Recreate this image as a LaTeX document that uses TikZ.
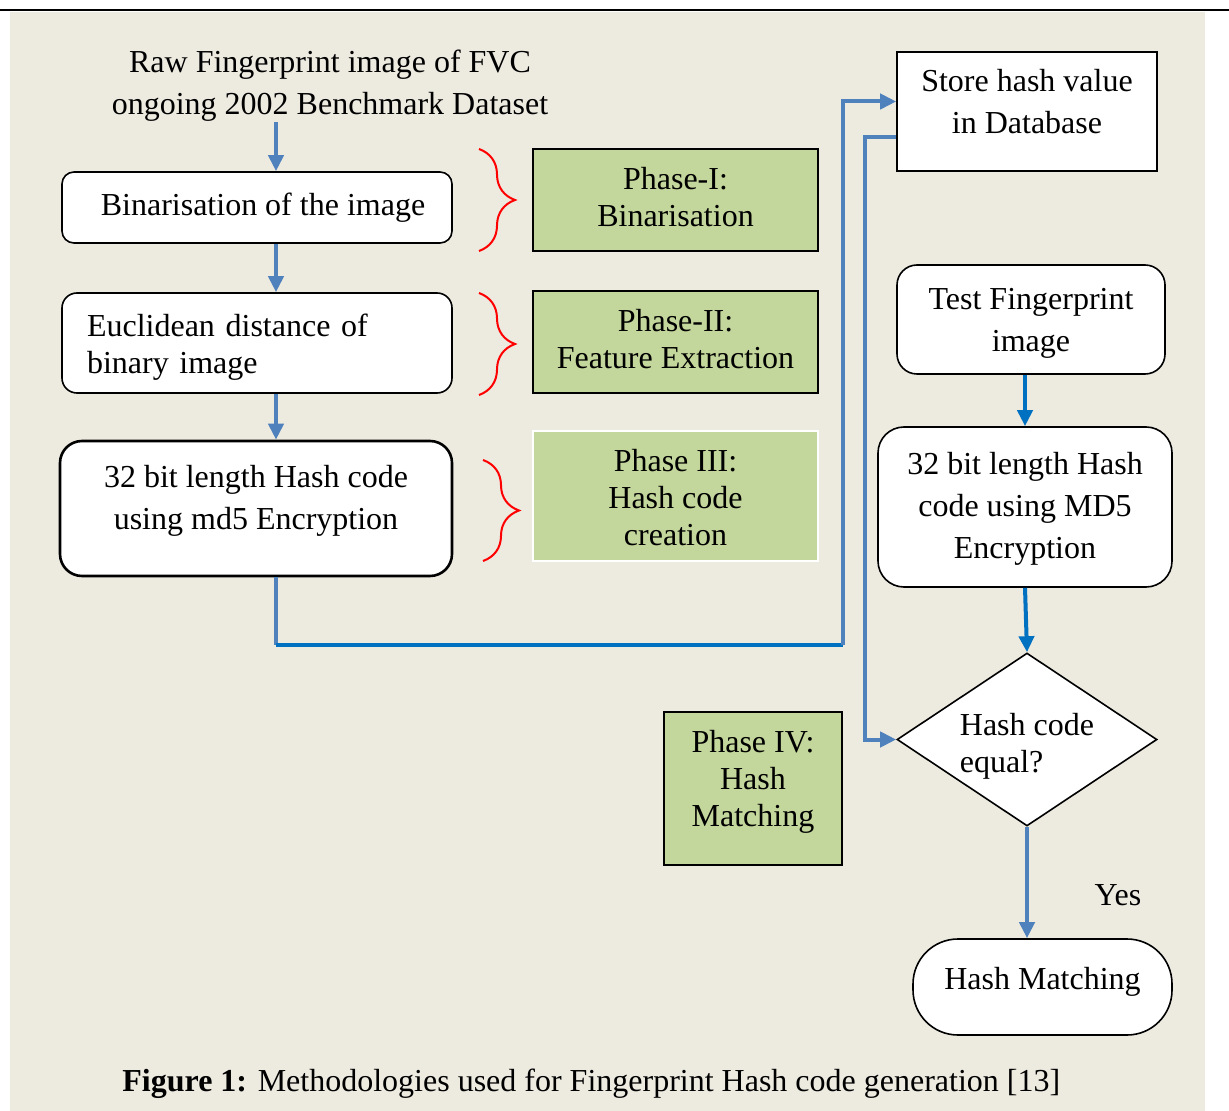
\documentclass[tikz,border=0pt]{standalone}
\usepackage{fontspec}
\setmainfont{Liberation Serif}
\usetikzlibrary{arrows.meta,shapes.geometric,decorations.pathreplacing}
\definecolor{sheetbeige}{RGB}{237,234,224}
\definecolor{phasegreen}{RGB}{195,214,155}
\definecolor{linkblue}{RGB}{79,129,189}
\definecolor{darkblue}{RGB}{0,112,192}
\newcommand{\colx}{276}
\newcommand{\lifted}[3][c]{\raisebox{#2}[0pt][0pt]{\begin{tabular}{@{}#1@{}}#3\end{tabular}}}

\begin{document}
\begin{tikzpicture}[x=0.5pt, y=-0.5pt, >={Triangle[width=7.5pt,length=8pt]},
    every node/.style={font=\fontsize{16}{21}\selectfont, inner sep=0pt},
    flowbox/.style={draw=black, fill=white, line width=0.8pt, align=center},
    phasebox/.style={draw=black, fill=phasegreen, line width=0.8pt, align=center,
        minimum width=142.5pt, font=\fontsize{16}{18.5}\selectfont},
    link/.style={draw=linkblue, line width=2pt},
    redbrace/.style={draw=red, line width=1pt, decorate,
        decoration={brace, amplitude=18pt}}]
        \useasboundingbox (0,0) rectangle (1229,1111);
        
        % sheet
        \fill[sheetbeige] (10,12) rectangle (1205,1111);
        \draw[line width=0.7pt] (0,10) -- (1205,10);
        \draw[line width=1.3pt] (1205,10) -- (1229,10);
        
        \coordinate (col) at (\colx,0);
        \coordinate (j1) at (\colx,645);
        \coordinate (j2) at (843,645);
        
        % left column
        \node (raw) [align=center] at (330,86) {Raw Fingerprint image of FVC\\ongoing 2002 Benchmark Dataset};
        \node (bin) [flowbox, rounded corners=6pt, minimum width=195pt, minimum height=35.5pt] at (257,207.5) {\hspace{6pt}Binarisation of the image};
        \node (eucl) [flowbox, rounded corners=7.5pt, align=left, text width=170pt, inner xsep=12.5pt, minimum height=50pt, font=\fontsize{16}{18.5}\selectfont] at (257,343) {\lifted[l]{-6.5pt}{Euclidean distance of\\binary image}};
        \node (md5) [flowbox, rounded corners=11pt, line width=1.3pt, minimum width=196pt, minimum height=67.5pt] at (256,508.5) {\lifted{0pt}{32 bit length Hash code\\using md5 Encryption}};
        
        % phases
        \node (ph1) [phasebox, minimum height=51pt] at (675.5,200) {\lifted{-4.5pt}{Phase-I:\\Binarisation}};
        \node (ph2) [phasebox, minimum height=51pt] at (675.5,342) {\lifted{-4.5pt}{Phase-II:\\Feature Extraction}};
        \node (ph3) [phasebox, draw=white, minimum height=65pt] at (675.5,496) {\lifted{-6.75pt}{Phase III:\\Hash code\\creation}};
        \node (ph4) [phasebox, minimum width=89pt, minimum height=76.5pt] at (753,788.5) {\lifted{-1pt}{Phase IV:\\Hash\\Matching}};
        
        % braces
        \draw[redbrace] (479,149) -- (479,251);
        \draw[redbrace] (479,293) -- (479,395);
        \draw[redbrace] (483,460) -- (483,561);
        
        % right column
        \node (store) [flowbox, minimum width=130pt, minimum height=59.5pt] at (1027,111.5) {\lifted{-0.75pt}{Store hash value\\in Database}};
        \node (test) [flowbox, rounded corners=10pt, minimum width=134pt, minimum height=54.5pt] at (1031,319.5) {\lifted{-5.75pt}{Test Fingerprint\\image}};
        \node (hashb) [flowbox, rounded corners=13pt, minimum width=147pt, minimum height=80pt] at (1025,507) {\lifted{-4.75pt}{32 bit length Hash\\code using MD5\\Encryption}};
        \node (equal) [flowbox, diamond, aspect=1.5, minimum width=130pt, minimum height=86.5pt, font=\fontsize{16}{18.5}\selectfont] at (1027,739.5) {\lifted[l]{-7.75pt}{Hash code\\equal?}};
        \node (match) [flowbox, rounded corners=22.5pt, minimum width=129.5pt, minimum height=48pt] at (1042.5,987) {\raisebox{-1.45pt}[0pt][0pt]{Hash Matching}};
        \node (yes) at (1118,895) {Yes};
        
        % arrows
        \draw[link, ->] (raw.south -| col) -- (bin.north -| col);
        \draw[link, ->] (bin.south -| col) -- (eucl.north -| col);
        \draw[link, ->] (eucl.south -| col) -- (md5.north -| col);
        \draw[link] (md5.south -| col) -- (j1);
        \draw[link, draw=darkblue] (j1) -- (j2);
        \draw[link, ->] (j2) |- ([yshift=5pt]store.west);
        \draw[link, ->] ([yshift=-12.75pt]store.west) -- ++(-31,0) |- (equal.west);
        \draw[link, draw=darkblue, ->] (test.south -| hashb) -- (hashb.north);
        \draw[link, draw=darkblue, ->] (hashb.south) -- (equal.north);
        \draw[link, ->] (equal.south) -- (match.north -| equal.south);
        
        % caption
        \node (caption) [anchor=west] at (122,1084) {\textbf{Figure 1:} Methodologies used for Fingerprint Hash code generation [13]};
    \end{tikzpicture}
\end{document}
